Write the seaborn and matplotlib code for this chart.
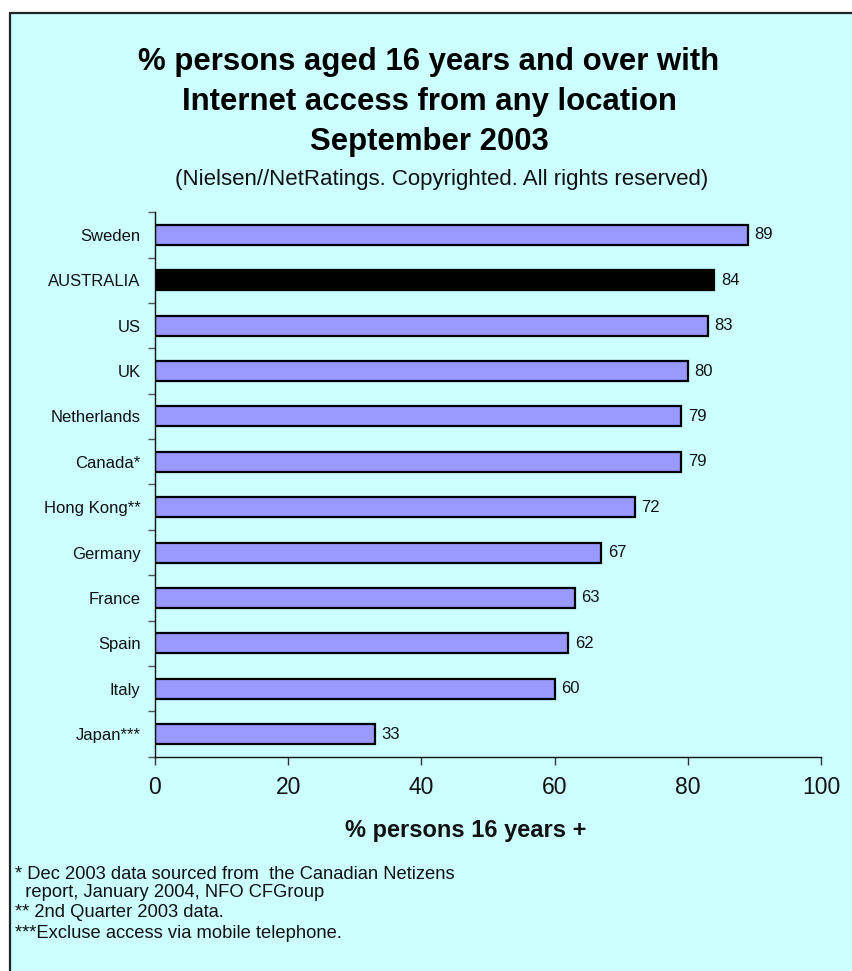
import matplotlib
matplotlib.use("Agg")
import matplotlib.pyplot as plt
import seaborn as sns
import pandas as pd
import numpy as np
from matplotlib.lines import Line2D
from matplotlib.patches import Rectangle

# Data
countries = ["Sweden", "AUSTRALIA", "US", "UK", "Netherlands", "Canada*",
             "Hong Kong**", "Germany", "France", "Spain", "Italy", "Japan***"]
values = [89, 84, 83, 80, 79, 79, 72, 67, 63, 62, 60, 33]
highlight = "AUSTRALIA"
xticks = [0, 20, 40, 60, 80, 100]

title_lines = ["% persons aged 16 years and over with",
               "Internet access from any location",
               "September 2003"]
subtitle = "(Nielsen//NetRatings. Copyrighted. All rights reserved)"
xlabel = "% persons 16 years +"
footnotes = ["* Dec 2003 data sourced from  the Canadian Netizens",
             "  report, January 2004, NFO CFGroup",
             "** 2nd Quarter 2003 data.",
             "***Excluse access via mobile telephone."]

sns.set_theme(style="white")
plt.rcParams["font.family"] = ["Liberation Sans", "DejaVu Sans"]

W, H = 853, 971
BG = "#CCFFFF"
BAR = "#9999FF"
INK = "#111111"

fig = plt.figure(figsize=(W / 100, H / 100), dpi=100, facecolor="white")

# Cyan panel with a dark rule on its top and left edges
x0, ytop = 10 / W, 1 - 13 / H
fig.patches.append(Rectangle((x0, 0), 1 - x0, ytop, transform=fig.transFigure,
                             facecolor=BG, edgecolor="none", zorder=-10))
fig.add_artist(Line2D([x0, x0], [0, ytop], transform=fig.transFigure,
                      color="#222222", lw=1.6))
fig.add_artist(Line2D([x0, 1], [ytop, ytop], transform=fig.transFigure,
                      color="#222222", lw=1.6))

ax = fig.add_axes([155 / W, 214.3 / H, 666 / W, 544.4 / H])
ax.set_facecolor("none")

df = pd.DataFrame({"country": countries, "value": values})
palette = {c: ("black" if c == highlight else BAR) for c in countries}
sns.barplot(data=df, x="value", y="country", hue="country", palette=palette,
            legend=False, orient="h", width=0.44, edgecolor="black",
            linewidth=1.6, saturation=1, ax=ax)

for cont in ax.containers:
    ax.bar_label(cont, padding=5, fontsize=12, color=INK)

ax.set_xlim(0, 100)
ax.set_xticks(xticks)
ax.set_xlabel("")
ax.set_ylabel("")
sns.despine(ax=ax)
for s in ("left", "bottom"):
    ax.spines[s].set_color(INK)
    ax.spines[s].set_linewidth(1.0)

ax.tick_params(axis="x", bottom=True, direction="out", length=6, width=1,
               color="#333333", pad=8, labelsize=16.5, labelcolor=INK)
ax.tick_params(axis="y", which="major", left=False, length=0, pad=10.5,
               labelsize=12, labelcolor=INK)
ax.set_yticks(np.arange(-0.5, len(countries), 1), minor=True)
ax.tick_params(axis="y", which="minor", left=True, direction="out", length=5,
               width=1, color="#555555")

fig.text(466 / W, 1 - 830 / H, xlabel, ha="center", va="center",
         fontsize=17, fontweight="bold", color=INK)

for i, line in enumerate(title_lines):
    fig.text(429 / W, 1 - (62 + 40 * i) / H, line, ha="center", va="center",
             fontsize=22.4, fontweight="bold", color="black")
fig.text(442 / W, 1 - 180 / H, subtitle, ha="center", va="center",
         fontsize=16, color=INK)

for line, y in zip(footnotes, [874, 892, 912, 933]):
    fig.text(15 / W, 1 - y / H, line, ha="left", va="center",
             fontsize=13.2, color=INK)

fig.savefig("out.png", dpi=100, facecolor="white")
